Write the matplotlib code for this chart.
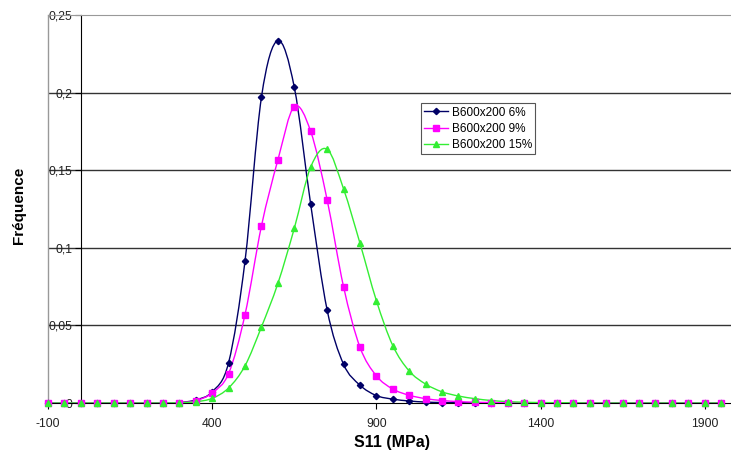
import matplotlib

matplotlib.use('Agg')
import matplotlib.pyplot as plt
import numpy as np
from matplotlib.lines import Line2D
from matplotlib.path import Path
from matplotlib.patches import PathPatch

plt.rcParams['font.family'] = ['Liberation Sans', 'DejaVu Sans']
plt.rcParams['axes.unicode_minus'] = False

# contrainte S11 (MPa), un point tous les 50 MPa
s11 = list(range(-100, 2000, 50))

freq_6 = [0, 0, 0, 0, 0, 0, 0, 0,
          0.0003, 0.002, 0.0072, 0.026, 0.0915, 0.197, 0.2335, 0.2035, 0.128, 0.060,
          0.025, 0.0115, 0.0048, 0.0025, 0.0013, 0.0006, 0.0003, 0.0002, 0.0001,
          0, 0, 0, 0, 0, 0, 0, 0, 0, 0, 0, 0, 0, 0, 0]
freq_9 = [0, 0, 0, 0, 0, 0, 0, 0,
          0.0003, 0.0015, 0.0065, 0.019, 0.057, 0.114, 0.1565, 0.191, 0.175, 0.131,
          0.075, 0.036, 0.0175, 0.009, 0.005, 0.0028, 0.0016, 0.0009, 0.0005, 0.0003,
          0.0002, 0.0001,
          0, 0, 0, 0, 0, 0, 0, 0, 0, 0, 0, 0]
freq_15 = [0, 0, 0, 0, 0, 0, 0, 0,
           0.0002, 0.0008, 0.003, 0.0097, 0.024, 0.049, 0.077, 0.1125, 0.152, 0.1635,
           0.138, 0.103, 0.066, 0.037, 0.0206, 0.0122, 0.0072, 0.0045, 0.0028, 0.0016,
           0.0009, 0.0005, 0.0003, 0.0002, 0.0001,
           0, 0, 0, 0, 0, 0, 0, 0, 0]

labels = ['B600x200 6%', 'B600x200 9%', 'B600x200 15%']
xticks = [-100, 400, 900, 1400, 1900]
yticks = [0, 0.05, 0.1, 0.15, 0.2, 0.25]
ytick_labels = ['0', '0,05', '0,1', '0,15', '0,2', '0,25']


def smooth_path(x, y):
    """courbe lissee facon Excel : Bezier cubiques (Catmull-Rom)."""
    p = np.column_stack([x, y]).astype(float)
    n = len(p)
    verts = [p[0]]
    codes = [Path.MOVETO]
    for i in range(n - 1):
        p0 = p[max(i - 1, 0)]
        p3 = p[min(i + 2, n - 1)]
        c1 = p[i] + (p[i + 1] - p0) / 6.0
        c2 = p[i + 1] - (p3 - p[i]) / 6.0
        verts += [c1, c2, p[i + 1]]
        codes += [Path.CURVE4] * 3
    return Path(verts, codes)


fig = plt.figure(figsize=(7.31, 4.53), dpi=100)
ax = fig.add_axes([48 / 731, 50 / 453, 683 / 731, 388 / 453])
ax.set_xlim(-100, 1980)
ax.set_ylim(0, 0.25)

series = [
    (freq_6, '#000066', 'D', 3.2),
    (freq_9, '#ff00ff', 's', 4.0),
    (freq_15, '#33ee33', '^', 4.4),
]
handles = []
for (yv, col, mk, ms), lab in zip(series, labels):
    ax.add_patch(PathPatch(smooth_path(s11, yv), fill=False, edgecolor=col,
                           lw=1.0, transform=ax.transData, zorder=3))
    ax.plot(s11, yv, ls='none', marker=mk, ms=ms, color=col, mec=col,
            clip_on=False, zorder=4)
    handles.append(Line2D([], [], color=col, lw=1.0, marker=mk, ms=ms, mec=col))

for yv in yticks[1:-1]:
    ax.axhline(yv, color='#333333', lw=1.0, zorder=1)
ax.axvline(-100, color='#999999', lw=1.0, clip_on=False, zorder=1)

ax.spines['right'].set_visible(False)
ax.spines['top'].set_color('#999999')
ax.spines['left'].set_position(('data', 0))
ax.spines['left'].set_color('black')
ax.spines['bottom'].set_color('black')

ax.set_xticks(xticks)
ax.set_yticks(yticks)
ax.set_yticklabels(ytick_labels)
ax.tick_params(axis='both', labelsize=8.7, labelcolor='#222222', direction='out',
               length=4, width=0.8, pad=2)
ax.tick_params(axis='x', pad=7)

leg = ax.legend(handles, labels, loc='upper left', bbox_to_anchor=(0.546, 0.773),
                borderaxespad=0, fontsize=8.5, handlelength=2.0, handletextpad=0.3,
                labelspacing=0.35, borderpad=0.3, fancybox=False, framealpha=1,
                edgecolor='#555555')
leg.get_frame().set_linewidth(0.8)

fig.text(392 / 731, 1 - 443 / 453, 'S11 (MPa)', ha='center', va='center',
         fontsize=11.5, fontweight='bold')
fig.text(19 / 731, 1 - 205 / 453, 'Fréquence', ha='center', va='center',
         rotation=90, fontsize=11, fontweight='bold')

fig.savefig('out.png', dpi=100)
